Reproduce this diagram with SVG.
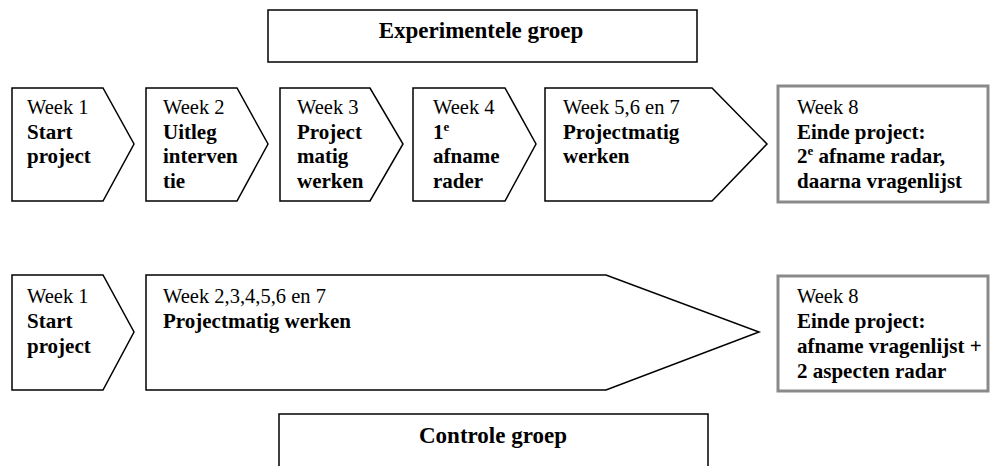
<svg xmlns="http://www.w3.org/2000/svg" width="991" height="466" viewBox="0 0 991 466">
<style>
.s{fill:#fff;stroke:#000;stroke-width:1.5;stroke-linejoin:miter}
.g{fill:#fff;stroke:#8a8a8a;stroke-width:3}
text{font-family:"Liberation Serif","DejaVu Serif",serif;font-size:20.5px;fill:#000}
.b{font-weight:bold;font-size:21px}
.t{font-weight:bold;font-size:23px}
.sup{font-size:13px;font-weight:bold}
</style>
<g id="title-exp"><rect class="s" x="268" y="10" width="429" height="52"/><text class="t" x="481" y="38" text-anchor="middle">Experimentele groep</text></g>
<g id="e1"><polygon class="s" points="12,88 103,88 134,144 103,201 12,201"/><text x="27" y="114">Week 1</text><text class="b" x="27" y="139">Start</text><text class="b" x="27" y="163">project</text></g>
<g id="e2"><polygon class="s" points="146,88 237,88 268,144 237,201 146,201"/><text x="163" y="114">Week 2</text><text class="b" x="163" y="139">Uitleg</text><text class="b" x="163" y="163">interven</text><text class="b" x="163" y="188">tie</text></g>
<g id="e3"><polygon class="s" points="280,88 370,88 403,144 370,201 280,201"/><text x="297" y="114">Week 3</text><text class="b" x="297" y="139">Project</text><text class="b" x="297" y="163">matig</text><text class="b" x="297" y="188">werken</text></g>
<g id="e4"><polygon class="s" points="413,88 505,88 536,144 505,201 413,201"/><text x="433" y="114">Week 4</text><text class="b" x="433" y="139">1<tspan class="sup" dy="-8">e</tspan></text><text class="b" x="433" y="163">afname</text><text class="b" x="433" y="188">rader</text></g>
<g id="e5"><polygon class="s" points="545,88 712,88 767,144 712,201 545,201"/><text x="563" y="114">Week 5,6 en 7</text><text class="b" x="563" y="139">Projectmatig</text><text class="b" x="563" y="163">werken</text></g>
<g id="e8"><rect class="g" x="778" y="86" width="210" height="116"/><text x="797" y="114">Week 8</text><text class="b" x="797" y="139">Einde project:</text><text class="b" x="797" y="163">2<tspan class="sup" dy="-8">e</tspan><tspan dy="8"> afname radar,</tspan></text><text class="b" x="797" y="188">daarna vragenlijst</text></g>
<g id="c1"><polygon class="s" points="12,275 103,275 134,332 103,390 12,390"/><text x="27" y="303">Week 1</text><text class="b" x="27" y="328">Start</text><text class="b" x="27" y="353">project</text></g>
<g id="c2"><polygon class="s" points="146,275 606,275 759,332 606,390 146,390"/><text x="163" y="303">Week 2,3,4,5,6 en 7</text><text class="b" x="163" y="328">Projectmatig werken</text></g>
<g id="c8"><rect class="g" x="778" y="276" width="210" height="115"/><text x="797" y="303">Week 8</text><text class="b" x="797" y="328">Einde project:</text><text class="b" x="797" y="353">afname vragenlijst +</text><text class="b" x="797" y="378">2 aspecten radar</text></g>
<g id="title-ctrl"><rect class="s" x="279" y="414" width="429" height="60"/><text class="t" x="493" y="443" text-anchor="middle">Controle groep</text></g>
<g id="connectors"></g>
</svg>
